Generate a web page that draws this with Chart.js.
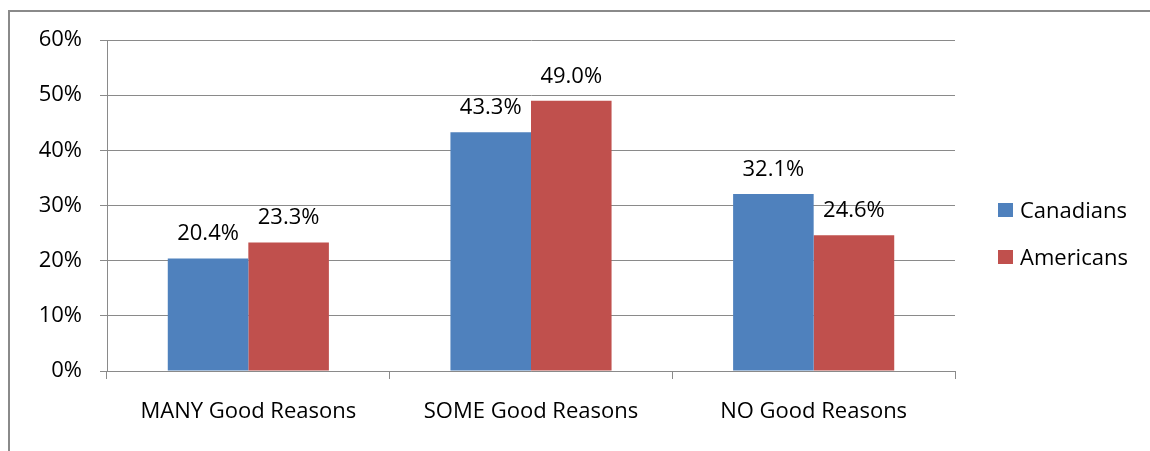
<!DOCTYPE html>
<html>
<head>
<meta charset="utf-8">
<script src="https://cdn.jsdelivr.net/npm/chart.js@4/dist/chart.umd.min.js"></script>
<style>
  html, body { margin: 0; padding: 0; background: #fff; }
  #wrap { position: relative; width: 1150px; height: 451px; }
</style>
</head>
<body>
<div id="wrap"><canvas id="c" width="1150" height="451"></canvas></div>
<script>
const categories = ['MANY Good Reasons', 'SOME Good Reasons', 'NO Good Reasons'];
const seriesNames = ['Canadians', 'Americans'];
const canadians = [20.4, 43.3, 32.1];
const americans = [23.3, 49.0, 24.6];
const yTicks = [0, 10, 20, 30, 40, 50, 60];

const FONT = '"Open Sans", sans-serif';
const FS = 22;
const colors = ['#4F81BD', '#C0504D'];

// outer frame of the chart area
const framePlugin = {
  id: 'frame',
  beforeDraw(chart) {
    const ctx = chart.ctx;
    ctx.save();
    ctx.fillStyle = '#fff';
    ctx.fillRect(0, 0, chart.width, chart.height);
    ctx.strokeStyle = '#8a8a8a';
    ctx.lineWidth = 2;
    ctx.strokeRect(9, 11, 1300, 600);
    ctx.restore();
  }
};

// value labels above each bar
const valueLabels = {
  id: 'valueLabels',
  afterDatasetsDraw(chart) {
    const ctx = chart.ctx;
    ctx.save();
    ctx.font = FS + 'px ' + FONT;
    ctx.fillStyle = '#000';
    ctx.textAlign = 'center';
    ctx.textBaseline = 'alphabetic';
    chart.data.datasets.forEach((ds, i) => {
      chart.getDatasetMeta(i).data.forEach((bar, j) => {
        ctx.fillText(ds.data[j].toFixed(1) + '%', bar.x, bar.y - 18);
      });
    });
    ctx.restore();
  }
};

// legend on the right
const sideLegend = {
  id: 'sideLegend',
  afterDraw(chart) {
    const ctx = chart.ctx;
    ctx.save();
    ctx.font = FS + 'px ' + FONT;
    ctx.textBaseline = 'alphabetic';
    ctx.textAlign = 'left';
    chart.data.datasets.forEach((ds, i) => {
      const y = 210 + i * 47;
      ctx.fillStyle = ds.backgroundColor;
      ctx.fillRect(998, y - 7, 15, 14);
      ctx.fillStyle = '#000';
      ctx.fillText(ds.label, 1020, y + 7.5);
    });
    ctx.restore();
  }
};

new Chart(document.getElementById('c'), {
  type: 'bar',
  data: {
    labels: categories,
    datasets: [
      { label: seriesNames[0], data: canadians, backgroundColor: colors[0] },
      { label: seriesNames[1], data: americans, backgroundColor: colors[1] }
    ]
  },
  options: {
    responsive: false,
    animation: false,
    events: [],
    layout: { padding: { top: 40, right: 195, left: 0, bottom: 0 } },
    plugins: { legend: { display: false }, tooltip: { enabled: false } },
    datasets: { bar: { categoryPercentage: 0.57, barPercentage: 1.0 } },
    scales: {
      x: {
        grid: { offset: true, drawOnChartArea: false, color: '#8a8a8a', tickLength: 8, lineWidth: 1 },
        border: { color: '#8a8a8a', width: 1 },
        ticks: { color: '#000', font: { family: FONT, size: FS }, padding: 20, maxRotation: 0 },
        afterFit(s) { s.height = 80; }
      },
      y: {
        min: 0, max: 60,
        afterBuildTicks(s) { s.ticks = yTicks.map(v => ({ value: v })); },
        grid: { color: '#8a8a8a', tickLength: 7, lineWidth: 1 },
        border: { color: '#8a8a8a', width: 1 },
        ticks: { color: '#000', font: { family: FONT, size: FS }, padding: 18, callback: v => v + '%' },
        afterFit(s) { s.width = 107; }
      }
    }
  },
  plugins: [framePlugin, valueLabels, sideLegend]
});
</script>
</body>
</html>
